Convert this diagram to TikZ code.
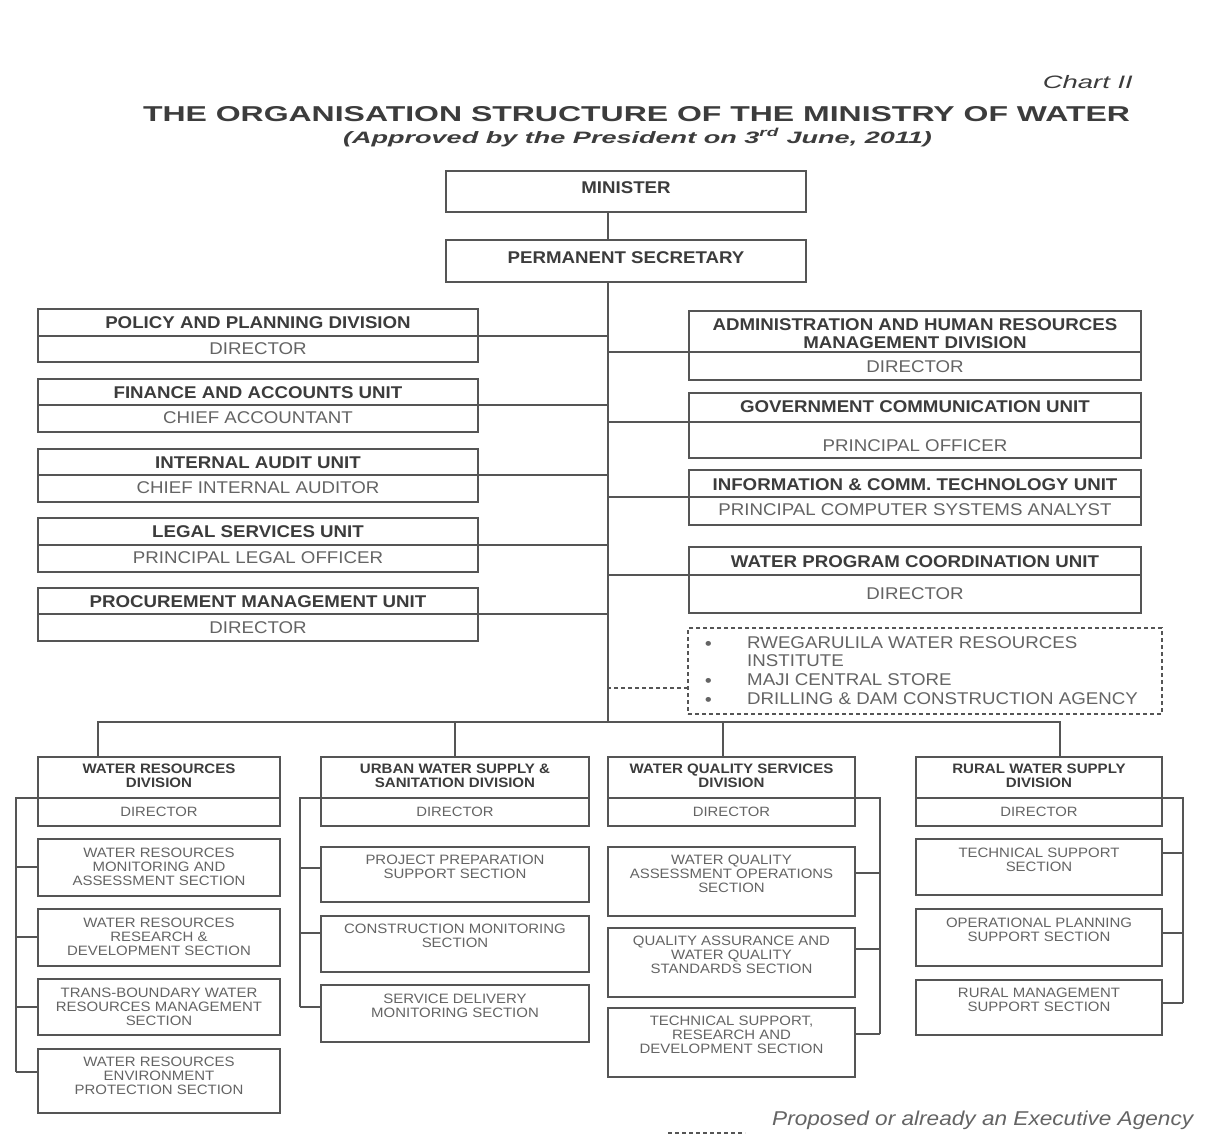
\documentclass[tikz,border=0pt]{standalone}
\usepackage{fontspec}
\usepackage{graphicx}
\setmainfont{Liberation Sans}[FakeStretch=1.1]
\usetikzlibrary{fit,calc}
\definecolor{ink}{RGB}{60,60,60}
\definecolor{inkl}{RGB}{100,100,100}
\definecolor{lc}{RGB}{85,85,85}
\newsavebox\fitbx
\newcommand\fitw[2]{\sbox\fitbx{#2}\pgfmathsetmacro\fitfac{#1/\wd\fitbx}\scalebox{\fitfac}[1]{\usebox\fitbx}}
% two-part box: name, corner1, corner2, ydiv, ytitle, ysub, title, sub
\newcommand\twobox[8]{%
  \node[bx, fit={(#2)(#3)}] (#1) {};
  \coordinate (#1-dv) at (0,#4);
  \draw[ln] (#1.west |- #1-dv) coordinate (#1-l) -- (#1.east |- #1-dv) coordinate (#1-r);
  \coordinate (#1-ty) at (0,#5);
  \coordinate (#1-sy) at (0,#6);
  \node[curT] (#1-t) at (#1.center |- #1-ty) {#7};
  \node[curS] (#1-s) at (#1.center |- #1-sy) {#8};
}
% section box: name, corner1, corner2, ytext, text
\newcommand\secbox[5]{%
  \node[bx, fit={(#2)(#3)}] (#1) {};
  \coordinate (#1-ty) at (0,#4);
  \node[sec] (#1-t) at (#1.center |- #1-ty) {#5};
}
% tick: box, side, bracket coordinate, y
\newcommand\tick[4]{%
  \coordinate (#1-k) at (0,#4);
  \draw[ln] (#1.#2 |- #1-k) -- (#3 |- #1-k);
}
\begin{document}
\begin{tikzpicture}[x=1pt,y=-1pt,
  bx/.style={draw=lc, line width=1.3pt, inner sep=0pt, outer sep=0pt, rectangle},
  ln/.style={draw=lc, line width=1.3pt},
  dln/.style={draw=lc, line width=1.2pt, dash pattern=on 4pt off 3pt},
  tbig/.style={font=\fontsize{17}{18}\selectfont\bfseries, text=ink, align=center, inner sep=0pt},
  sbig/.style={font=\fontsize{17}{18}\selectfont, text=inkl, align=center, inner sep=0pt},
  tsm/.style={font=\fontsize{13.7}{14.3}\selectfont\bfseries, text=ink, align=center, inner sep=0pt},
  ssm/.style={font=\fontsize{13.5}{14.3}\selectfont, text=inkl, align=center, inner sep=0pt},
  sec/.style={font=\fontsize{13.6}{14.3}\selectfont, text=inkl, align=center, inner sep=0pt},
  eat/.style={font=\fontsize{17}{18}\selectfont, text=inkl, anchor=west, inner sep=0pt},
  curT/.style={tbig}, curS/.style={sbig}]
\fill[white] (0,0) rectangle (1208,1138);
\useasboundingbox (0,0) rectangle (1208,1138);

% headings
\node[anchor=east, inner sep=0pt, text=ink, font=\fontsize{18}{20}\selectfont] (chart) at (1133,82) {\fitw{90}{\itshape Chart II}};
\node[inner sep=0pt, text=ink, font=\fontsize{21.5}{23}\selectfont] (title) at (636.5,114.5) {\fitw{987}{\bfseries THE ORGANISATION STRUCTURE OF THE MINISTRY OF WATER}};
\node[inner sep=0pt, text=ink, font=\fontsize{16.5}{18}\selectfont] (subtitle) at (637.5,137.5) {\fitw{589}{\bfseries\itshape (Approved by the President on 3\textsuperscript{rd} June, 2011)}};

% top boxes
\node[bx, fit={(446,171)(806,212)}] (min) {};
\node[tbig] (min-t) at (626,188) {MINISTER};
\node[bx, fit={(446,240)(806,282)}] (ps) {};
\node[tbig] (ps-t) at (626,258) {PERMANENT SECRETARY};

\coordinate (bus) at (608,722);
\draw[ln] (min.south -| bus) -- (ps.north -| bus);
\draw[ln] (ps.south -| bus) -- (bus);

% left column
\twobox{pol}{38,309}{478,362}{336}{323}{349}{POLICY AND PLANNING DIVISION}{DIRECTOR}
\twobox{fin}{38,379}{478,432}{405}{393}{418}{FINANCE AND ACCOUNTS UNIT}{CHIEF ACCOUNTANT}
\twobox{aud}{38,449}{478,502}{475}{463}{488}{INTERNAL AUDIT UNIT}{CHIEF INTERNAL AUDITOR}
\twobox{leg}{38,518}{478,572}{545}{532}{558}{LEGAL SERVICES UNIT}{PRINCIPAL LEGAL OFFICER}
\twobox{pro}{38,588}{478,641}{614}{602}{628}{PROCUREMENT MANAGEMENT UNIT}{DIRECTOR}
\foreach \b in {pol,fin,aud,leg,pro} {\draw[ln] (\b-r) -- (\b-r -| bus);}

% right column
\twobox{adm}{689,311}{1141,380}{352}{333.5}{367}{ADMINISTRATION AND HUMAN RESOURCES\\MANAGEMENT DIVISION}{DIRECTOR}
\twobox{gov}{689,393}{1141,458}{422}{407}{446}{GOVERNMENT COMMUNICATION UNIT}{PRINCIPAL OFFICER}
\twobox{ict}{689,470}{1141,525}{497}{485}{510}{INFORMATION \& COMM. TECHNOLOGY UNIT}{PRINCIPAL COMPUTER SYSTEMS ANALYST}
\twobox{wpc}{689,547}{1141,613}{575}{562}{594}{WATER PROGRAM COORDINATION UNIT}{DIRECTOR}
\foreach \b in {adm,gov,ict,wpc} {\draw[ln] (\b-l) -- (\b-l -| bus);}

% executive agencies
\node[dln, fit={(688,628)(1162,714)}, inner sep=0pt, outer sep=0pt] (ea) {};
\coordinate (eay) at (0,688);
\draw[dln] (ea.west |- eay) -- (bus |- eay);
\node[eat, font=\fontsize{17}{18}\selectfont\bfseries] (ea1b) at (705,645) {•};
\node[eat] (ea1) at (747,643) {RWEGARULILA WATER RESOURCES};
\node[eat] (ea1c) at (747,661) {INSTITUTE};
\node[eat, font=\fontsize{17}{18}\selectfont\bfseries] (ea2b) at (705,682) {•};
\node[eat] (ea2) at (747,680) {MAJI CENTRAL STORE};
\node[eat, font=\fontsize{17}{18}\selectfont\bfseries] (ea3b) at (705,701) {•};
\node[eat] (ea3) at (747,699) {DRILLING \& DAM CONSTRUCTION AGENCY};

% divisions
\tikzset{curT/.style={tsm}, curS/.style={ssm}}
\twobox{wr}{38,757}{280,826}{798}{776}{812}{WATER RESOURCES\\DIVISION}{DIRECTOR}
\twobox{uw}{321,757}{589,826}{798}{776}{812}{URBAN WATER SUPPLY \&\\SANITATION DIVISION}{DIRECTOR}
\twobox{wq}{608,757}{855,826}{798}{776}{812}{WATER QUALITY SERVICES\\DIVISION}{DIRECTOR}
\twobox{rw}{916,757}{1162,826}{798}{776}{812}{RURAL WATER SUPPLY\\DIVISION}{DIRECTOR}

\coordinate (d1) at (98,0);
\coordinate (d3) at (723,0);
\coordinate (d4) at (1060,0);
\draw[ln] (wr.north -| d1) |- (bus);
\draw[ln] (uw.north) |- (bus);
\draw[ln] (wq.north -| d3) |- (bus);
\draw[ln] (rw.north -| d4) |- (bus);

% water resources sections
\secbox{wr1}{38,839}{280,896}{867}{WATER RESOURCES\\MONITORING AND\\ASSESSMENT SECTION}
\secbox{wr2}{38,909}{280,966}{937}{WATER RESOURCES\\RESEARCH \&\\DEVELOPMENT SECTION}
\secbox{wr3}{38,979}{280,1035}{1007}{TRANS-BOUNDARY WATER\\RESOURCES MANAGEMENT\\SECTION}
\secbox{wr4}{38,1049}{280,1113}{1076}{WATER RESOURCES\\ENVIRONMENT\\PROTECTION SECTION}
\coordinate (wrb) at (16,0);
\tick{wr1}{west}{wrb}{867}
\tick{wr2}{west}{wrb}{937}
\tick{wr3}{west}{wrb}{1007}
\tick{wr4}{west}{wrb}{1072}
\draw[ln] (wr-l) -| (wr4-k -| wrb);

% urban sections
\secbox{us1}{321,847}{589,902}{867}{PROJECT PREPARATION\\SUPPORT SECTION}
\secbox{us2}{321,916}{589,972}{936}{CONSTRUCTION MONITORING\\SECTION}
\secbox{us3}{321,985}{589,1042}{1005.5}{SERVICE DELIVERY\\MONITORING SECTION}
\coordinate (usb) at (300,0);
\tick{us1}{west}{usb}{868}
\tick{us2}{west}{usb}{933}
\tick{us3}{west}{usb}{1007}
\draw[ln] (uw-l) -| (us3-k -| usb);

% water quality sections
\secbox{wq1}{608,847}{855,916}{874}{WATER QUALITY\\ASSESSMENT OPERATIONS\\SECTION}
\secbox{wq2}{608,928}{855,997}{955}{QUALITY ASSURANCE AND\\WATER QUALITY\\STANDARDS SECTION}
\secbox{wq3}{608,1008}{855,1077}{1035}{TECHNICAL SUPPORT,\\RESEARCH AND\\DEVELOPMENT SECTION}
\coordinate (wqb) at (880,0);
\tick{wq1}{east}{wqb}{873}
\tick{wq2}{east}{wqb}{949}
\tick{wq3}{east}{wqb}{1034}
\draw[ln] (wq-r) -| (wq3-k -| wqb);

% rural sections
\secbox{rs1}{916,839}{1162,895}{860}{TECHNICAL SUPPORT\\SECTION}
\secbox{rs2}{916,909}{1162,966}{930}{OPERATIONAL PLANNING\\SUPPORT SECTION}
\secbox{rs3}{916,980}{1162,1035}{1000}{RURAL MANAGEMENT\\SUPPORT SECTION}
\coordinate (rsb) at (1183,0);
\tick{rs1}{east}{rsb}{853}
\tick{rs2}{east}{rsb}{933}
\tick{rs3}{east}{rsb}{1003}
\draw[ln] (rw-r) -| (rs3-k -| rsb);

% legend
\coordinate (lg1) at (668,1133);
\coordinate (lg2) at (745,1133);
\draw[dln] (lg1) -- (lg2);
\node[anchor=west, inner sep=0pt, text=inkl, font=\fontsize{20}{22}\selectfont] (legend) at (772,1120) {\fitw{421}{\itshape Proposed or already an Executive Agency}};
\end{tikzpicture}
\end{document}
